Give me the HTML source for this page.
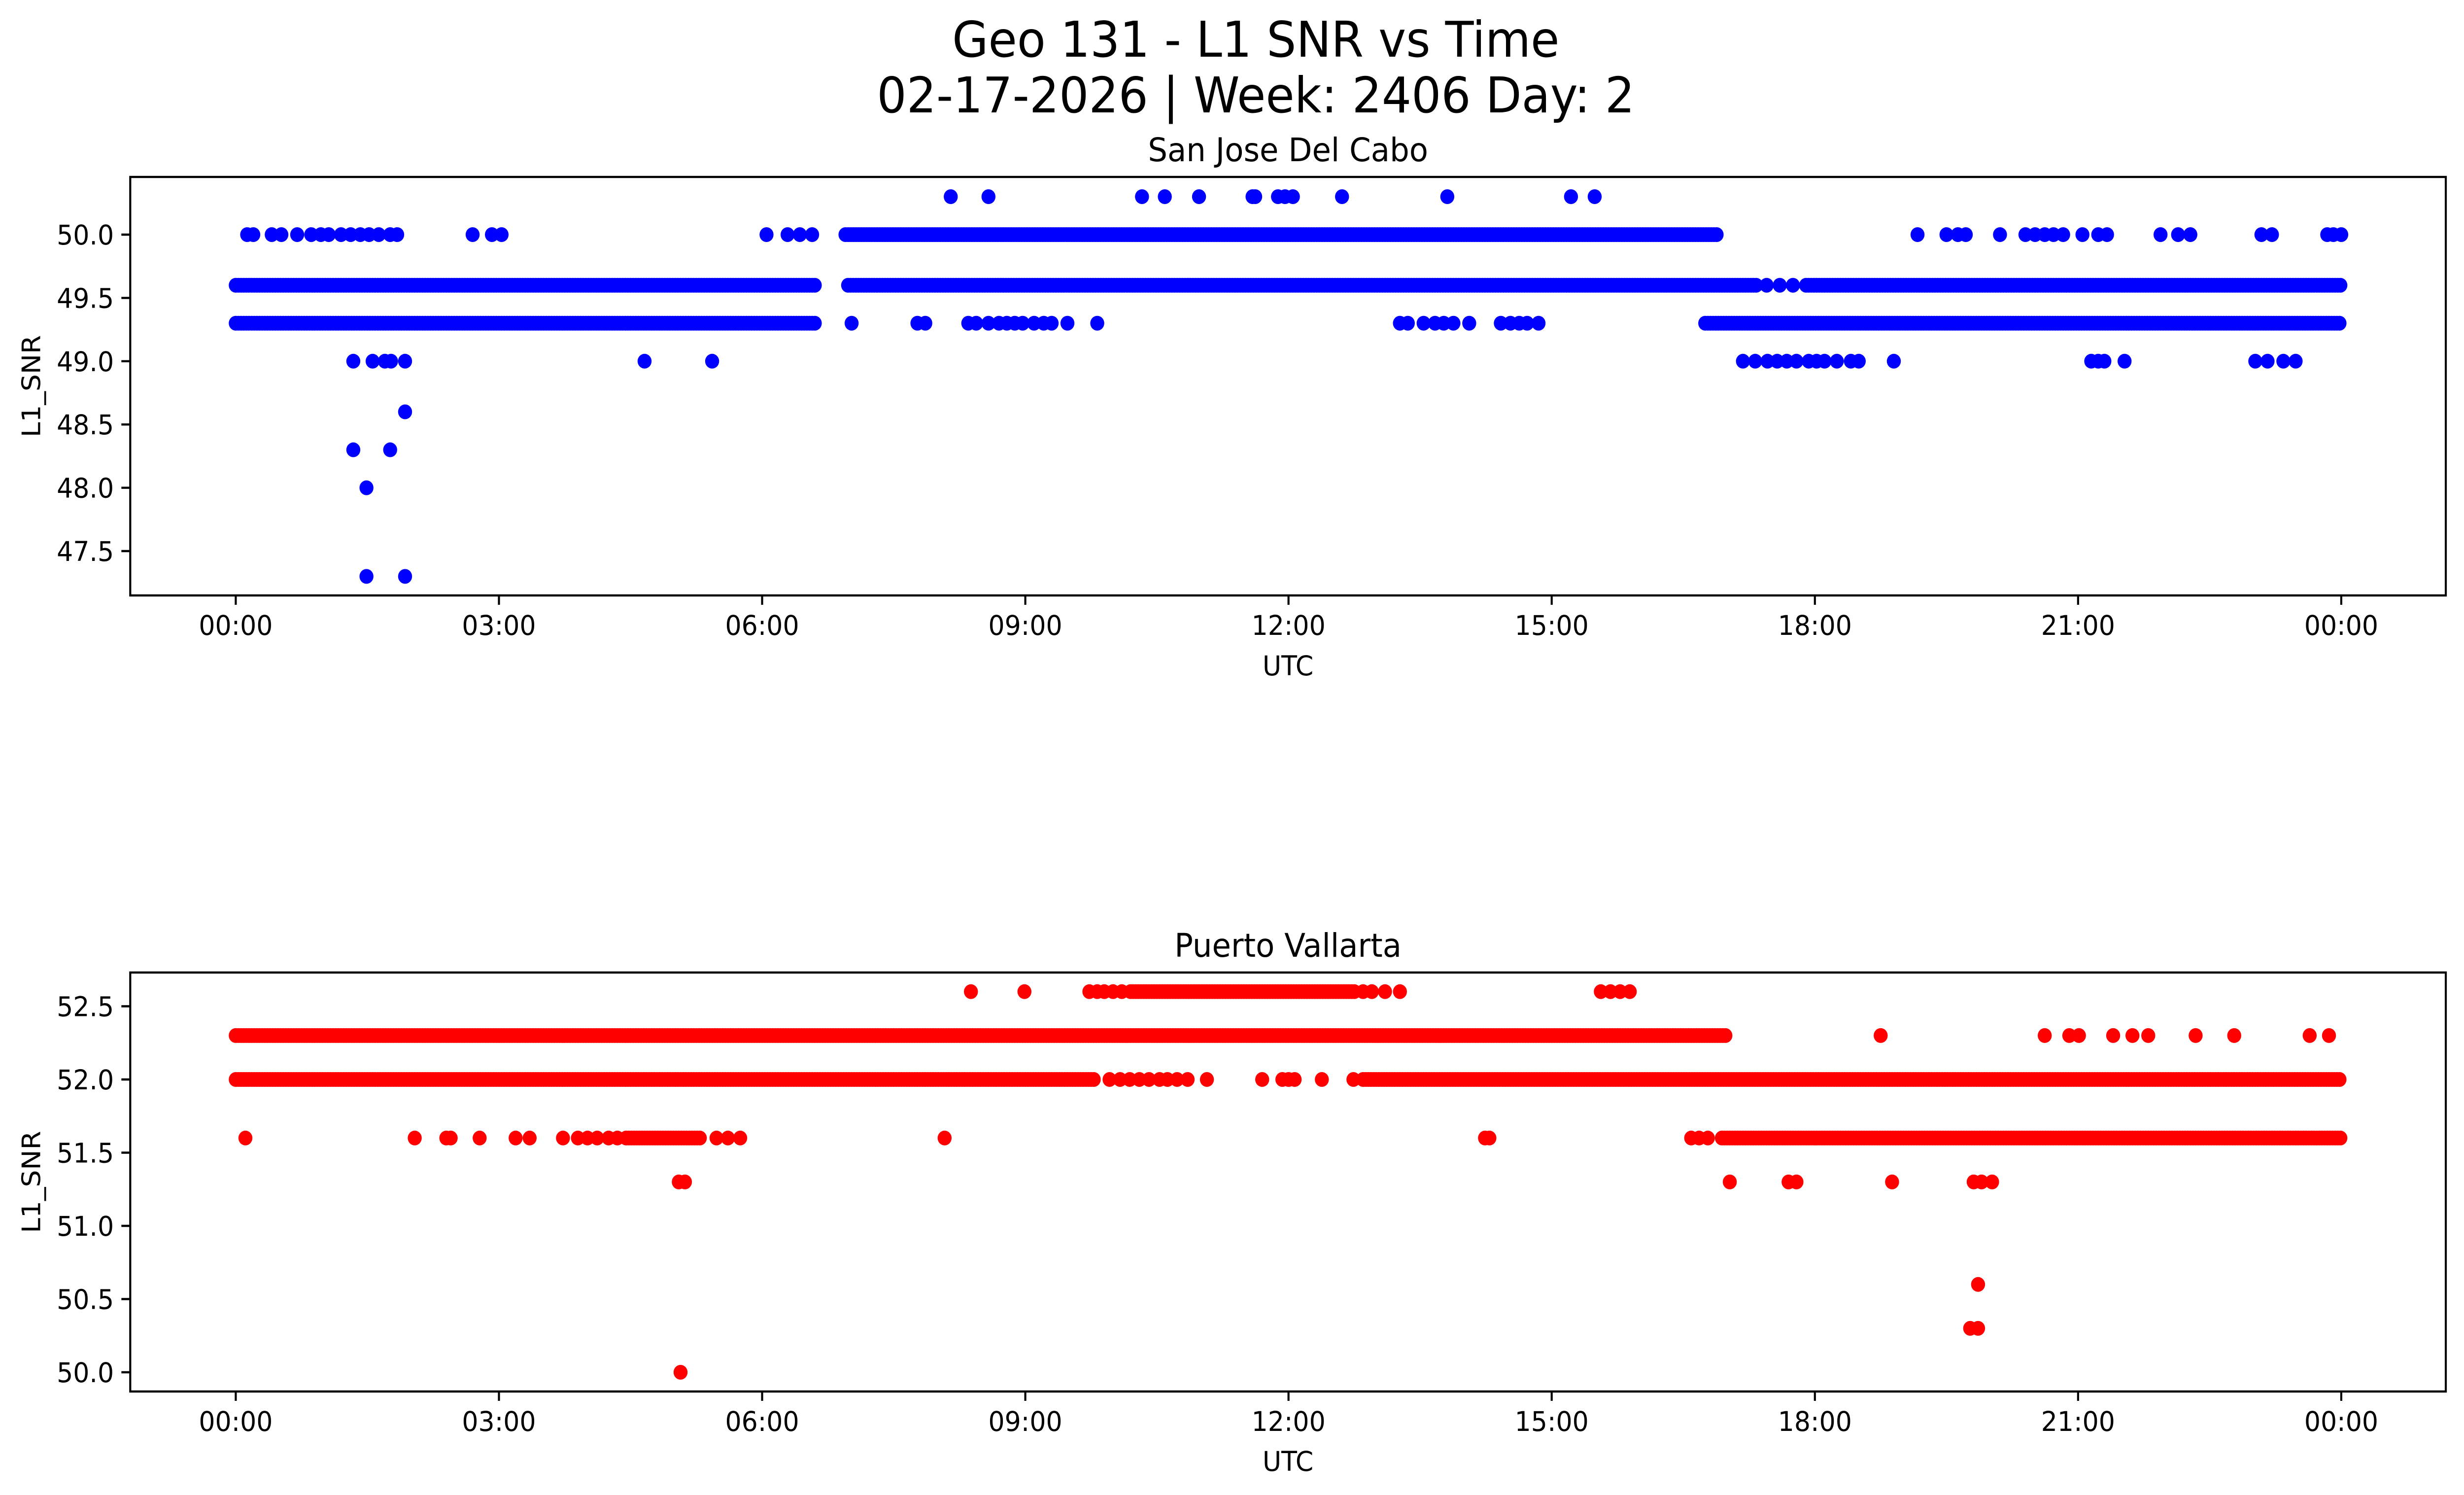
<!DOCTYPE html>
<html><head><meta charset="utf-8">
<style>
html,body{margin:0;padding:0;background:#fff;width:100%;height:100%;overflow:hidden;}
svg{display:block;width:100vw;height:100vh;}
text{font-family:"DejaVu Sans","Liberation Sans",sans-serif;fill:#000;}
</style></head>
<body>
<svg id="fig" viewBox="0 0 5278 3033" preserveAspectRatio="none" xmlns="http://www.w3.org/2000/svg">
<rect x="0" y="0" width="5278" height="3033" fill="#fff"/>
<text x="2690" y="115" font-size="100" text-anchor="middle">Geo 131 - L1 SNR vs Time</text>
<text x="2690" y="228" font-size="100" text-anchor="middle">02-17-2026 | Week: 2406 Day: 2</text>
<g id="top"></g>
<g id="bot"></g>
</svg>
<script>
// ---- data (hours UTC, L1 SNR) ----
const xTickLabels = ["00:00","03:00","06:00","09:00","12:00","15:00","18:00","21:00","00:00"];
const xTickHours = [0,3,6,9,12,15,18,21,24];
const topYTicks = [47.5,48.0,48.5,49.0,49.5,50.0];
const botYTicks = [50.0,50.5,51.0,51.5,52.0,52.5];

// San Jose Del Cabo: dense runs [startHour, endHour, snr]
const sjRuns = [[0,6.6,49.6],[6.98,17.35,49.6],[17.9,24,49.6],[0,6.6,49.3],[16.75,24,49.3],[6.95,16.9,50.0]];
const sj500 = [0.13,0.2,0.41,0.52,0.7,0.86,0.97,1.06,1.2,1.31,1.42,1.52,1.63,1.76,1.84,2.7,2.92,3.03,6.05,6.29,6.43,6.57,19.17,19.5,19.63,19.72,20.11,20.4,20.51,20.62,20.72,20.83,21.05,21.23,21.33,21.94,22.14,22.28,23.09,23.21,23.84,23.91,24.0];
const sj503 = [8.15,8.58,10.33,10.59,10.98,11.59,11.62,11.88,11.96,12.05,12.61,13.81,15.22,15.49];
const sj496 = [17.45,17.6,17.75];
const sj493 = [7.02,7.77,7.86,8.35,8.44,8.58,8.7,8.79,8.88,8.97,9.1,9.21,9.3,9.48,9.82,13.27,13.36,13.54,13.67,13.77,13.88,14.06,14.42,14.53,14.63,14.72,14.85];
const sj490 = [1.34,1.56,1.7,1.77,1.93,4.66,5.43,17.18,17.32,17.46,17.57,17.68,17.79,17.93,18.02,18.11,18.25,18.41,18.5,18.9,21.15,21.23,21.3,21.53,23.02,23.16,23.34,23.48];
const sj486 = [1.93];
const sj483 = [1.34,1.76];
const sj480 = [1.49];
const sj473 = [1.49,1.93];

// Puerto Vallarta
const pvRuns = [[0,17.0,52.3],[0,9.8,52.0],[12.85,24,52.0],[16.94,24,51.6],[4.45,5.3,51.6],[10.2,12.75,52.6]];
const pv526 = [8.38,8.99,9.73,9.82,9.9,10.0,10.1,12.85,12.95,13.1,13.27,15.56,15.67,15.78,15.89];
const pv523 = [18.75,20.62,20.9,21.01,21.4,21.62,21.8,22.34,22.78,23.64,23.86];
const pv520 = [9.96,10.08,10.19,10.3,10.41,10.53,10.62,10.73,10.85,11.07,11.7,11.93,12.0,12.07,12.38,12.74];
const pv516 = [0.11,2.04,2.4,2.45,2.78,3.19,3.35,3.73,3.9,4.01,4.12,4.25,4.35,5.48,5.61,5.75,8.08,14.24,14.29,16.59,16.68,16.78];
const pv513 = [5.05,5.12,17.03,17.7,17.79,18.88,19.81,19.9,20.02];
const pv506 = [19.86];
const pv503 = [19.77,19.86];
const pv500 = [5.07];

const NS = "http://www.w3.org/2000/svg";
function mk(tag, attrs, parent){
  const e = document.createElementNS(NS, tag);
  for (const k in attrs) e.setAttribute(k, attrs[k]);
  parent.appendChild(e);
  return e;
}
const X0 = 505, XPH = 187.92;
function xs(h){ return X0 + h*XPH; }

function panel(g, cfg){
  const ys = v => cfg.y0 + (cfg.v0 - v)*cfg.ppu;
  const fr = mk('rect',{x:279,y:cfg.top,width:4960,height:cfg.bottom-cfg.top,fill:'none',stroke:'#000','stroke-width':4.4},g);
  
  
  const t = mk('text',{x:2759,y:cfg.titleY,'font-size':66,'text-anchor':'middle'},g);
  t.textContent = cfg.title;
  
  
  cfg.yticks.forEach(v=>{
    const y = ys(v);
    const l = mk('line',{x1:260,x2:279,y1:y,y2:y,stroke:'#000','stroke-width':4.4},g);
    
    
    const tx = mk('text',{x:244,y:y+20,'font-size':55,'text-anchor':'end'},g);
    tx.textContent = v.toFixed(1);
    
    
  });
  xTickHours.forEach((h,i)=>{
    const x = xs(h);
    const l = mk('line',{x1:x,x2:x,y1:cfg.bottom,y2:cfg.bottom+19,stroke:'#000','stroke-width':4.4},g);
    
    
    const tx = mk('text',{x:x,y:cfg.xlabY,'font-size':55,'text-anchor':'middle'},g);
    tx.textContent = xTickLabels[i];
    
    
  });
  const xl = mk('text',{x:2759,y:cfg.xtitleY,'font-size':55,'text-anchor':'middle'},g);
  xl.textContent = 'UTC';
  
  
  const cy = (cfg.top+cfg.bottom)/2;
  const yl = mk('text',{x:0,y:0,'font-size':55,'text-anchor':'middle',transform:`translate(86 ${cy}) rotate(-90)`},g);
  yl.textContent = 'L1_SNR';
  
  
  const pg = mk('g',{fill:cfg.color},g);
  
  
  cfg.runs.forEach(r=>{
    for (let h=r[0]; h<=r[1]+1e-9; h+=0.03){
      const c = mk('circle',{cx:xs(h),cy:ys(r[2]),r:15},pg);
      
      
    }
  });
  cfg.singles.forEach(s=>{
    s[1].forEach(h=>{
      const c = mk('circle',{cx:xs(h),cy:ys(s[0]),r:15},pg);
      
      
    });
  });
}

panel(document.getElementById('top'),{
  top:359,bottom:1208,y0:476,v0:50.0,ppu:256.8,title:'San Jose Del Cabo',titleY:327,
  xlabY:1288,xtitleY:1370,yticks:topYTicks,color:'#0000ff',runs:sjRuns,
  singles:[[50.0,sj500],[50.3,sj503],[49.6,sj496],[49.3,sj493],[49.0,sj490],[48.6,sj486],[48.3,sj483],[48.0,sj480],[47.3,sj473]]
});
panel(document.getElementById('bot'),{
  top:1973,bottom:2823,y0:2190,v0:52.0,ppu:297,title:'Puerto Vallarta',titleY:1941,
  xlabY:2903,xtitleY:2984,yticks:botYTicks,color:'#ff0000',runs:pvRuns,
  singles:[[52.6,pv526],[52.3,pv523],[52.0,pv520],[51.6,pv516],[51.3,pv513],[50.6,pv506],[50.3,pv503],[50.0,pv500]]
});
</script>
</body></html>
